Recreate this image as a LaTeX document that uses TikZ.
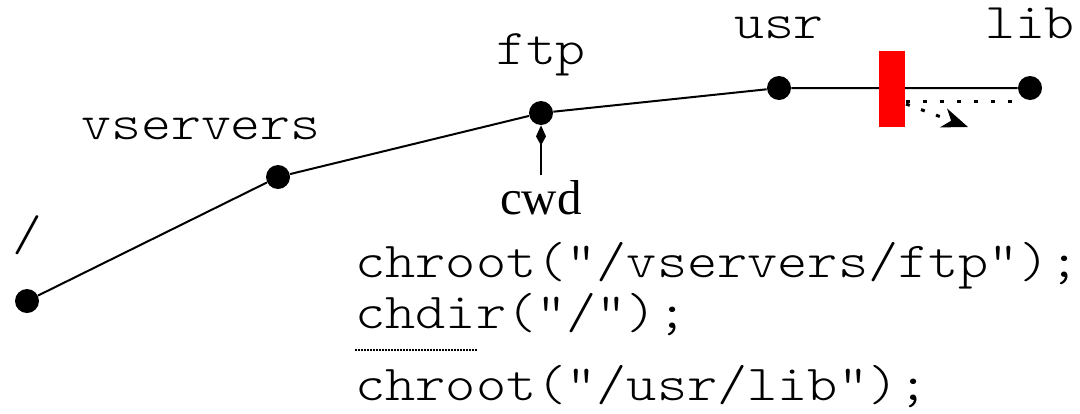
\documentclass[tikz,border=0pt]{standalone}
\usepackage{fontspec}
\setmainfont{Liberation Serif}
\setmonofont{Latin Modern Mono Light}[FakeStretch=1.14]
\usetikzlibrary{arrows.meta}
\begin{document}
\begin{tikzpicture}[x=0.5pt,y=-0.5pt,
  dirdot/.style={circle,fill=black,inner sep=0pt,minimum size=12pt},
  dirlabel/.style={anchor=base,inner sep=0pt,font=\fontsize{25}{28}\selectfont\ttfamily},
  codeline/.style={anchor=base west,inner sep=0pt,font=\fontsize{25.2}{28}\selectfont\ttfamily},
  link/.style={line width=1pt}]
\useasboundingbox (0,0) rectangle (1080,413);

% directory path
\node[dirdot] (root) at (27,301) {};
\node[dirdot] (vs)   at (278,177) {};
\node[dirdot] (ftp)  at (541,113) {};
\node[dirdot] (usr)  at (779,88) {};
\node[dirdot] (lib)  at (1030,88) {};

\node[dirlabel] (lroot) at (27,250) {/};
\node[dirlabel] (lvs)   at (201,139) {vservers};
\node[dirlabel] (lftp)  at (541,64) {ftp};
\node[dirlabel] (lusr)  at (779,38) {usr};
\node[dirlabel] (llib)  at (1030,38) {lib};

\draw[link] (root) -- (vs) -- (ftp) -- (usr) -- (lib);

% barrier
\fill[red] (879,51) rectangle (905,127);
\coordinate (b1) at (906,101);
\coordinate (b2) at (906,104);
\coordinate (esc) at (968,127);
\draw[line width=1.5pt,dash pattern=on 2pt off 6.5pt] (b1) -- (lib.west |- b1);
\draw[line width=1.5pt,dash pattern=on 2pt off 6pt,-{Stealth[length=13pt,width=10pt,inset=4pt]}] (b2) -- (esc);

% current directory
\node[inner sep=0pt,anchor=base,font=\fontsize{24.5}{28}\selectfont] (cwd) at (541,214) {cwd};
\draw[link,-{Kite[length=10pt,width=5pt,inset=4.5pt]}] (541,175) -- (ftp);

% code
\node[codeline] (c1) at (355,277) {chroot("/vservers/ftp");};
\node[codeline] (c2) at (355,328) {chdir("/");};
\node[codeline] (c3) at (355,400) {chroot("/usr/lib");};
\coordinate (u1) at (355,350);
\coordinate (u2) at (478,350);
\draw[line width=0.6pt,dash pattern=on 1pt off 0.5pt] (u1) -- (u2);
\end{tikzpicture}
\end{document}
